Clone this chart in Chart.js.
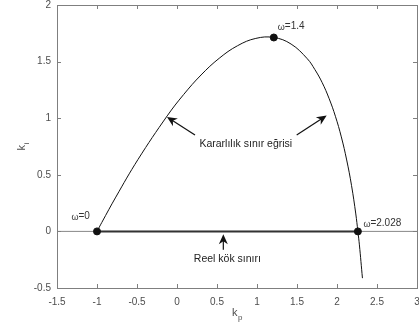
<!DOCTYPE html>
<html>
<head>
<meta charset="utf-8">
<script src="https://cdn.jsdelivr.net/npm/chart.js@4/dist/chart.umd.min.js"></script>
<style>
  html, body { margin: 0; padding: 0; background: #fff; }
  #wrap { width: 419px; height: 329px; }
</style>
</head>
<body>
<div id="wrap"><canvas id="chart" width="419" height="329"></canvas></div>
<script>
// stability boundary curve (kp, ki)
const kpCurve = [-1, -0.94, -0.765, -0.487, -0.123, 0.083, 0.301, 0.527, 0.756, 0.985, 1.21, 1.426, 1.629, 1.724, 1.815, 1.90, 1.98, 2.054, 2.121, 2.182, 2.235, 2.261, 2.28, 2.318];
const kiCurve = [0, 0.079, 0.303, 0.636, 1.02, 1.209, 1.382, 1.529, 1.64, 1.705, 1.713, 1.655, 1.525, 1.429, 1.314, 1.176, 1.017, 0.835, 0.631, 0.404, 0.154, 0, -0.119, -0.413];

// marked points and their labels
const markKp = [-1, 1.21, 2.261];
const markKi = [0, 1.713, 0];
const markLabels = ["\u03c9=0", "\u03c9=1.4", "\u03c9=2.028"];
const markLabelPos = [[-1.32, 0.13], [1.26, 1.81], [2.33, 0.07]];

// real root boundary
const realKp = [-1, 2.261];
const realKi = [0, 0];

const xTicks = [-1.5, -1, -0.5, 0, 0.5, 1, 1.5, 2, 2.5, 3];
const yTicks = [-0.5, 0, 0.5, 1, 1.5, 2];

const FONT = '"Liberation Sans", Arial, Helvetica, sans-serif';
const AXIS = "#7f7f7f";
const TXT = "#4d4d4d";

const toPts = (xs, ys) => xs.map((x, i) => ({ x: x, y: ys[i] }));

function arrow(ctx, x1, y1, x2, y2) {
  const a = Math.atan2(y2 - y1, x2 - x1);
  const len = 10, w = 4.5;
  ctx.beginPath();
  ctx.moveTo(x1, y1);
  ctx.lineTo(x2 - Math.cos(a) * 6, y2 - Math.sin(a) * 6);
  ctx.stroke();
  ctx.beginPath();
  ctx.moveTo(x2, y2);
  ctx.lineTo(x2 - len * Math.cos(a) + w * Math.sin(a), y2 - len * Math.sin(a) - w * Math.cos(a));
  ctx.lineTo(x2 - 7 * Math.cos(a), y2 - 7 * Math.sin(a));
  ctx.lineTo(x2 - len * Math.cos(a) - w * Math.sin(a), y2 - len * Math.sin(a) + w * Math.cos(a));
  ctx.closePath();
  ctx.fill();
}

const matlabAxes = {
  id: "matlabAxes",
  afterDraw(chart) {
    const ctx = chart.ctx;
    const a = chart.chartArea;
    const xs = chart.scales.x, ys = chart.scales.y;
    ctx.save();
    // box
    ctx.strokeStyle = AXIS;
    ctx.lineWidth = 1;
    ctx.strokeRect(Math.round(a.left) + 0.5, Math.round(a.top) + 0.5,
      Math.round(a.right - a.left), Math.round(a.bottom - a.top));
    // inward ticks
    ctx.beginPath();
    xTicks.forEach(v => {
      const p = Math.round(xs.getPixelForValue(v)) + 0.5;
      ctx.moveTo(p, a.bottom); ctx.lineTo(p, a.bottom - 4);
      ctx.moveTo(p, a.top); ctx.lineTo(p, a.top + 4);
    });
    yTicks.forEach(v => {
      const p = Math.round(ys.getPixelForValue(v)) + 0.5;
      ctx.moveTo(a.left, p); ctx.lineTo(a.left + 4, p);
      ctx.moveTo(a.right, p); ctx.lineTo(a.right - 4, p);
    });
    ctx.stroke();

    // axis titles with subscripts
    ctx.fillStyle = TXT;
    ctx.textBaseline = "alphabetic";
    ctx.textAlign = "left";
    const cx = (a.left + a.right) / 2;
    ctx.font = "11px " + FONT;
    ctx.fillText("k", cx - 5, 316);
    ctx.font = "8px " + FONT;
    ctx.fillText("p", cx + 1, 320);
    ctx.save();
    ctx.translate(25, (a.top + a.bottom) / 2 + 4);
    ctx.rotate(-Math.PI / 2);
    ctx.font = "11px " + FONT;
    ctx.fillText("k", 0, 0);
    ctx.font = "8px " + FONT;
    ctx.fillText("i", 6, 4);
    ctx.restore();

    // point labels
    ctx.fillStyle = "#333";
    ctx.textBaseline = "middle";
    markLabels.forEach((t, i) => {
      const px = xs.getPixelForValue(markLabelPos[i][0]);
      const py = ys.getPixelForValue(markLabelPos[i][1]);
      ctx.font = "9px " + FONT;
      ctx.fillText(t.slice(0, 1), px, py + 1);
      const w = ctx.measureText(t.slice(0, 1)).width;
      ctx.font = "10px " + FONT;
      ctx.fillText(t.slice(1), px + w, py);
    });

    // annotations
    ctx.font = "10.5px " + FONT;
    ctx.textAlign = "center";
    ctx.fillStyle = "#222";
    ctx.fillText("Kararl\u0131l\u0131k s\u0131n\u0131r e\u011frisi", xs.getPixelForValue(0.86), ys.getPixelForValue(0.77));
    ctx.fillText("Reel k\u00f6k s\u0131n\u0131r\u0131", xs.getPixelForValue(0.63), ys.getPixelForValue(-0.245));

    ctx.strokeStyle = "#111";
    ctx.fillStyle = "#111";
    ctx.lineWidth = 1.2;
    arrow(ctx, xs.getPixelForValue(0.225), ys.getPixelForValue(0.852), xs.getPixelForValue(-0.125), ys.getPixelForValue(1.011));
    arrow(ctx, xs.getPixelForValue(1.496), ys.getPixelForValue(0.852), xs.getPixelForValue(1.871), ys.getPixelForValue(1.023));
    arrow(ctx, xs.getPixelForValue(0.579), ys.getPixelForValue(-0.163), xs.getPixelForValue(0.579), ys.getPixelForValue(-0.025));
    ctx.restore();
  }
};

new Chart(document.getElementById("chart"), {
  type: "scatter",
  data: {
    datasets: [
      {
        data: toPts(markKp, markKi),
        backgroundColor: "#111",
        borderColor: "#111",
        pointRadius: 3.5,
        order: 0
      },
      {
        data: toPts(kpCurve, kiCurve),
        showLine: true,
        borderColor: "#111",
        borderWidth: 1,
        pointRadius: 0,
        tension: 0.4,
        order: 1
      },
      {
        data: toPts(realKp, realKi),
        showLine: true,
        borderColor: "#333",
        borderWidth: 2,
        pointRadius: 0,
        order: 2
      },
      {
        data: toPts([-1.5, 3], [0, 0]),
        showLine: true,
        borderColor: "#888",
        borderWidth: 1,
        pointRadius: 0,
        order: 3
      }
    ]
  },
  options: {
    responsive: false,
    animation: false,
    layout: { autoPadding: false, padding: { top: 5, right: 2, left: 0, bottom: 0 } },
    plugins: { legend: { display: false }, tooltip: { enabled: false } },
    scales: {
      x: {
        type: "linear",
        min: -1.5, max: 3,
        afterBuildTicks: s => { s.ticks = xTicks.map(v => ({ value: v })); },
        afterFit: s => { s.height = 41; s.paddingLeft = 0; s.paddingRight = 0; },
        grid: { display: false, drawTicks: false },
        border: { display: false },
        ticks: { color: TXT, font: { family: FONT, size: 10 }, padding: 8, maxRotation: 0,
                 callback: v => String(v) }
      },
      y: {
        type: "linear",
        min: -0.5, max: 2,
        afterBuildTicks: s => { s.ticks = yTicks.map(v => ({ value: v })); },
        afterFit: s => { s.width = 57; s.paddingTop = 0; s.paddingBottom = 0; },
        grid: { display: false, drawTicks: false },
        border: { display: false },
        ticks: { color: TXT, font: { family: FONT, size: 10 }, padding: 6,
                 callback: v => String(v) }
      }
    }
  },
  plugins: [matlabAxes]
});
</script>
</body>
</html>
